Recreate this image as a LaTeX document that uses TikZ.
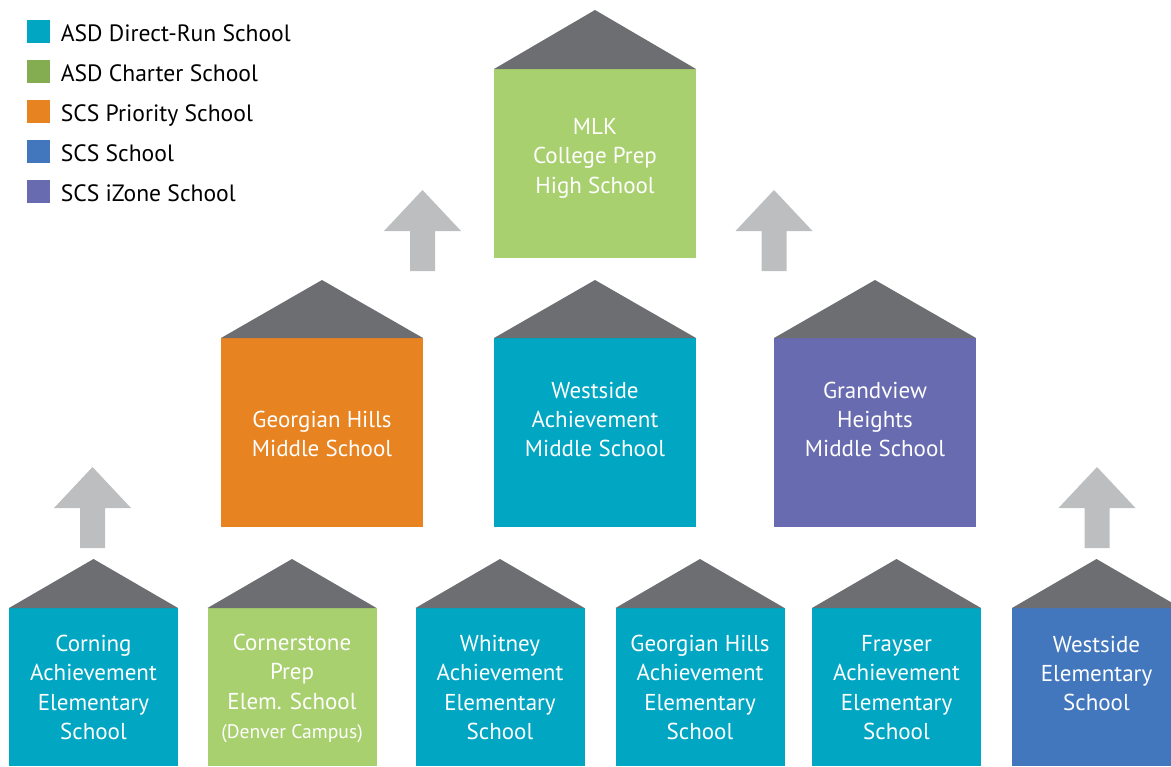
\documentclass[tikz,border=0pt]{standalone}
\usepackage{fontspec}
\setmainfont{PT Sans}
\usetikzlibrary{positioning}

\definecolor{asdrun}{RGB}{0,166,194}
\definecolor{charter}{RGB}{168,208,110}
\definecolor{charterkey}{RGB}{132,173,82}
\definecolor{priority}{RGB}{232,131,34}
\definecolor{scs}{RGB}{66,119,189}
\definecolor{izone}{RGB}{104,107,176}
\definecolor{roofgray}{RGB}{109,110,113}
\definecolor{arrowgray}{RGB}{188,190,192}

\tikzset{
  body/.style={inner sep=0, outer sep=0},
  bigbox/.style={body, minimum width=101pt, minimum height=94.5pt},
  smallbox/.style={body, minimum width=84.5pt, minimum height=79pt},
  schoolname/.style={text=white, align=center, inner sep=0, font=\fontsize{11.5}{14.7}\selectfont},
  key/.style={minimum size=11.5pt, inner sep=0},
  keytext/.style={inner sep=0, text height=8.6pt, text depth=0pt, yshift=-1pt, font=\fontsize{11.8}{14}\selectfont}
}

\newcommand\liftarrow[1]{%
  \fill[arrowgray] (#1) -- ++(-38.5,41) -- ++(26,0) -- ++(0,40) -- ++(25,0) -- ++(0,-40) -- ++(26,0) -- cycle;}

\begin{document}
\begin{tikzpicture}[x=0.5pt, y=-0.5pt]
    \useasboundingbox (0,0) rectangle (1171,766);
    \clip (0,0) rectangle (1171,766);

    % Legend
    \node[key, fill=asdrun] (k1) at (38.5,31) {};
    \node[key, fill=charterkey] (k2) at (38.5,71) {};
    \node[key, fill=priority] (k3) at (38.5,111) {};
    \node[key, fill=scs] (k4) at (38.5,151) {};
    \node[key, fill=izone] (k5) at (38.5,191) {};
    \node[keytext] (t1) [right=5pt of k1] {ASD Direct-Run School};
    \node[keytext] (t2) [right=5pt of k2] {ASD Charter School};
    \node[keytext] (t3) [right=5pt of k3] {SCS Priority School};
    \node[keytext] (t4) [right=5pt of k4] {SCS School};
    \node[keytext] (t5) [right=5pt of k5] {SCS iZone School};

    % High school
    \node[bigbox, fill=charter] (mlk) at (595,163.5) {};
    \node[schoolname] (mlkT) at (595,158) {MLK\\College Prep\\High School};

    % Middle schools
    \node[bigbox, fill=priority] (ghms) at (322,432.5) {};
    \node[bigbox, fill=asdrun] (wams) at (595,432.5) {};
    \node[bigbox, fill=izone] (gvms) at (875,432.5) {};
    \node[schoolname] (ghmsT) at (322,434) {Georgian Hills\\Middle School};
    \node[schoolname] (wamsT) at (595,419.5) {Westside\\Achievement\\Middle School};
    \node[schoolname] (gvmsT) at (875,419.5) {Grandview\\Heights\\Middle School};

    % Elementary schools
    \node[smallbox, fill=asdrun] (cae) at (93.5,687) {};
    \node[smallbox, fill=charter] (cpe) at (292,687) {};
    \node[smallbox, fill=asdrun] (wae) at (500,687) {};
    \node[smallbox, fill=asdrun] (ghae) at (700,687) {};
    \node[smallbox, fill=asdrun] (fae) at (896.5,687) {};
    \node[smallbox, fill=scs] (wes) at (1096.5,687) {};
    \node[schoolname] (caeT) at (93.5,687.5) {Corning\\Achievement\\Elementary\\School};
    \node[schoolname] (cpeT) at (292,688.5) {Cornerstone\\Prep\\Elem. School\\{\fontsize{9.8}{12}\selectfont (Denver Campus)}};
    \node[schoolname] (waeT) at (500,687.5) {Whitney\\Achievement\\Elementary\\School};
    \node[schoolname] (ghaeT) at (700,687.5) {Georgian Hills\\Achievement\\Elementary\\School};
    \node[schoolname] (faeT) at (896.5,687.5) {Frayser\\Achievement\\Elementary\\School};
    \node[schoolname] (wesT) at (1096.5,673.5) {Westside\\Elementary\\School};

    % Roofs
    \foreach \n/\h in {mlk/29.5pt, ghms/29pt, wams/29pt, gvms/29pt} {
        \fill[roofgray] (\n.north west) -- ([yshift=\h]\n.north) -- (\n.north east) -- cycle;
    }
    \foreach \n in {cae, cpe, wae, ghae, fae, wes} {
        \fill[roofgray] (\n.north west) -- ([yshift=24.5pt]\n.north) -- (\n.north east) -- cycle;
    }

    % Arrows up
    \liftarrow{422.5,190}
    \liftarrow{774,190}
    \liftarrow{92.5,467}
    \liftarrow{1097,467}
\end{tikzpicture}
\end{document}
